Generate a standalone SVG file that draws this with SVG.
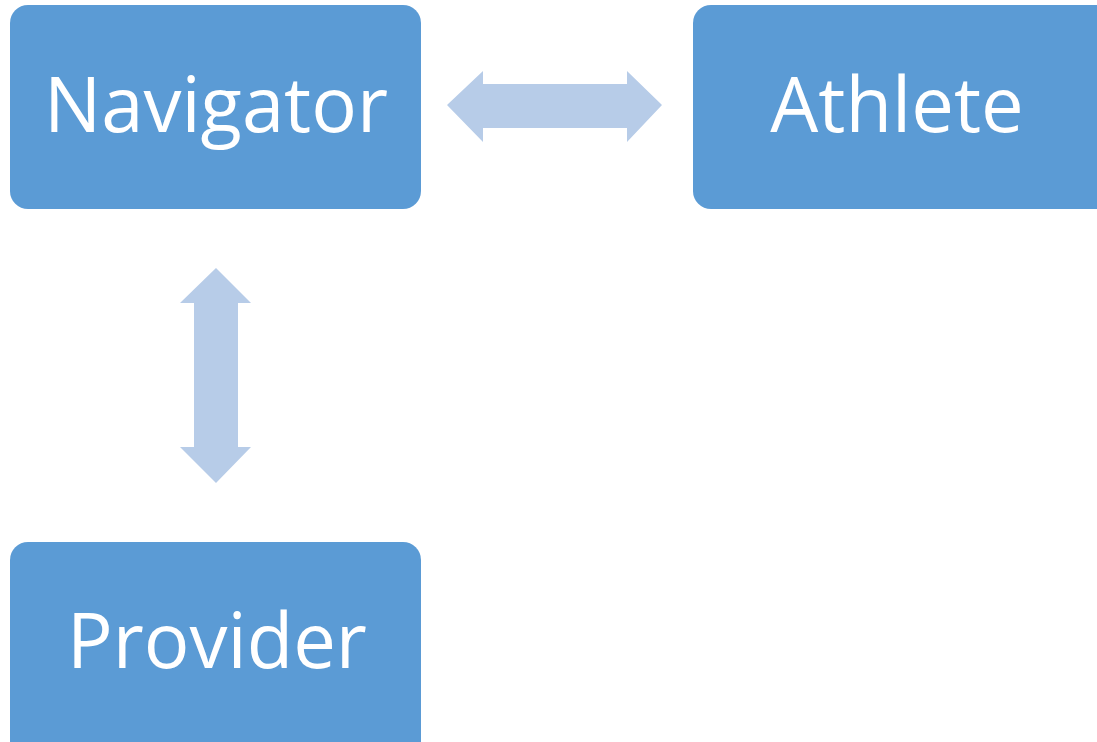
<svg xmlns="http://www.w3.org/2000/svg" width="1097" height="742" viewBox="0 0 1097 742">
  <style>
    .box { fill: #5B9BD5; }
    .label { fill: #FFFFFF; font-family: "Open Sans", "Liberation Sans", sans-serif; font-size: 76px; text-anchor: middle; }
    .link { fill: #B7CCE8; }
  </style>
  <rect width="1097" height="742" fill="#FFFFFF"/>
  <g id="connectors">
    <polygon class="link" points="447,105 483,71 483,84 627,84 627,71 662,105 627,142 627,128 483,128 483,142"/>
    <polygon class="link" points="216,268 251,303 238,303 238,447 251,447 216,483 180,447 194,447 194,303 180,303"/>
  </g>
  <g id="navigator">
    <rect class="box" x="10" y="5" width="411" height="204" rx="18"/>
    <text class="label" x="216" y="132">Navigator</text>
  </g>
  <g id="athlete">
    <rect class="box" x="693" y="5" width="420" height="204" rx="18"/>
    <text class="label" x="897" y="132">Athlete</text>
  </g>
  <g id="provider">
    <rect class="box" x="10" y="542" width="411" height="220" rx="18"/>
    <text class="label" x="217" y="668">Provider</text>
  </g>
</svg>
